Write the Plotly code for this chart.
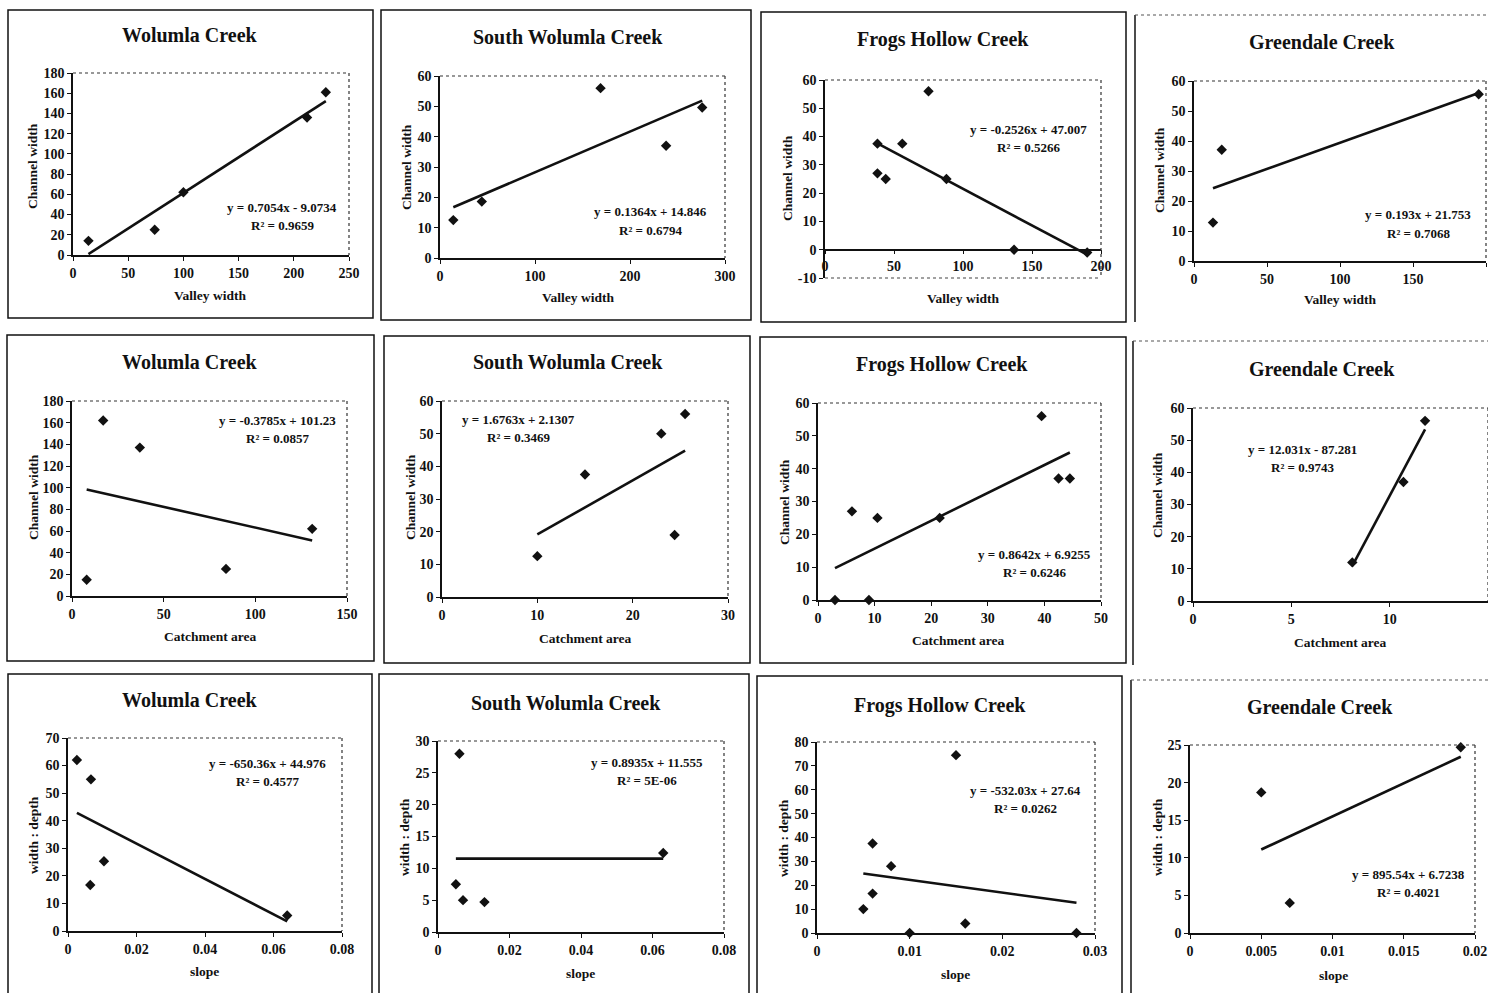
import numpy as np
import plotly.graph_objects as go

W, H = 1488, 993

# ---------------- data ----------------
creeks = ["Wolumla Creek", "South Wolumla Creek", "Frogs Hollow Creek", "Greendale Creek"]
row_x_titles = ["Valley width", "Catchment area", "slope"]
row_y_titles = ["Channel width", "Channel width", "width : depth"]

# Row 1: valley width vs channel width
wol_valley_x = [14, 74, 100, 212, 229]
wol_valley_y = [14, 25, 62, 136, 161]
swol_valley_x = [14, 44, 169, 238, 276]
swol_valley_y = [12.5, 18.6, 56, 37, 49.6]
frog_valley_x = [38, 38, 44, 56, 75, 88, 137, 190]
frog_valley_y = [37.5, 27, 25, 37.5, 56, 25, 0, -1]
green_valley_x = [13, 19, 195]
green_valley_y = [12.8, 37.1, 55.6]

# Row 2: catchment area vs channel width
wol_catch_x = [8, 17, 37, 84, 131]
wol_catch_y = [15, 162, 137, 25, 62]
swol_catch_x = [10, 15, 23, 24.4, 25.5]
swol_catch_y = [12.5, 37.5, 50, 19, 56]
frog_catch_x = [3, 6, 9, 10.5, 21.5, 39.5, 42.5, 44.5]
frog_catch_y = [0, 27, 0, 25, 25, 56, 37, 37]
green_catch_x = [8.1, 10.7, 11.8]
green_catch_y = [12, 37, 56]

# Row 3: slope vs width:depth
wol_slope_x = [0.0026, 0.0067, 0.0065, 0.0105, 0.064]
wol_slope_y = [62, 55, 16.7, 25.3, 5.6]
swol_slope_x = [0.005, 0.006, 0.007, 0.013, 0.063]
swol_slope_y = [7.5, 28, 5, 4.7, 12.4]
frog_slope_x = [0.005, 0.006, 0.006, 0.008, 0.010, 0.015, 0.016, 0.028]
frog_slope_y = [10, 37.5, 16.5, 28, 0, 74.5, 4, 0]
green_slope_x = [0.005, 0.007, 0.019]
green_slope_y = [18.7, 4, 24.7]

eq_texts = [
    "y = 0.7054x - 9.0734", "y = 0.1364x + 14.846", "y = -0.2526x + 47.007", "y = 0.193x + 21.753",
    "y = -0.3785x + 101.23", "y = 1.6763x + 2.1307", "y = 0.8642x + 6.9255", "y = 12.031x - 87.281",
    "y = -650.36x + 44.976", "y = 0.8935x + 11.555", "y = -532.03x + 27.64", "y = 895.54x + 6.7238",
]
r2_texts = [
    "R² = 0.9659", "R² = 0.6794", "R² = 0.5266", "R² = 0.7068",
    "R² = 0.0857", "R² = 0.3469", "R² = 0.6246", "R² = 0.9743",
    "R² = 0.4577", "R² = 5E-06", "R² = 0.0262", "R² = 0.4021",
]

series_x = [wol_valley_x, swol_valley_x, frog_valley_x, green_valley_x,
            wol_catch_x, swol_catch_x, frog_catch_x, green_catch_x,
            wol_slope_x, swol_slope_x, frog_slope_x, green_slope_x]
series_y = [wol_valley_y, swol_valley_y, frog_valley_y, green_valley_y,
            wol_catch_y, swol_catch_y, frog_catch_y, green_catch_y,
            wol_slope_y, swol_slope_y, frog_slope_y, green_slope_y]

x_ranges = [(0, 250), (0, 300), (0, 200), (0, 200),
            (0, 150), (0, 30), (0, 50), (0, 15),
            (0, 0.08), (0, 0.08), (0, 0.03), (0, 0.02)]
x_dticks = [50, 100, 50, 50, 50, 10, 10, 5, 0.02, 0.02, 0.01, 0.005]
y_ranges = [(0, 180), (0, 60), (-10, 60), (0, 60),
            (0, 180), (0, 60), (0, 60), (0, 60),
            (0, 70), (0, 30), (0, 80), (0, 25)]
y_dticks = [20, 10, 10, 10, 20, 10, 10, 10, 10, 5, 10, 5]

# ---------------- layout (window pixels) ----------------
layout_px = [
    dict(box=(8, 10, 373, 318), plot=(73, 73, 349, 255), title=(190, 35), xt=(210, 295), yt=(33, 166), eq=(282, 207)),
    dict(box=(381, 10, 751, 320), plot=(440, 76, 725, 258), title=(568, 37), xt=(578, 297), yt=(406, 167), eq=(650, 212)),
    dict(box=(761, 12, 1126, 322), plot=(825, 80, 1101, 278), title=(943, 39), xt=(963, 298), yt=(787, 178), eq=(1028, 129)),
    dict(box=(1135, 15, 1500, 322), plot=(1194, 81, 1486, 261), title=(1322, 42), xt=(1340, 300), yt=(1160, 170), eq=(1418, 215)),
    dict(box=(7, 335, 374, 661), plot=(72, 401, 347, 596), title=(190, 362), xt=(210, 636), yt=(33, 497), eq=(277, 420)),
    dict(box=(384, 336, 750, 663), plot=(442, 401, 728, 597), title=(568, 362), xt=(585, 638), yt=(410, 497), eq=(518, 419)),
    dict(box=(760, 337, 1126, 663), plot=(818, 403, 1101, 600), title=(942, 364), xt=(958, 640), yt=(784, 502), eq=(1034, 554)),
    dict(box=(1133, 341, 1500, 665), plot=(1193, 408, 1488, 601), title=(1322, 369), xt=(1340, 642), yt=(1158, 495), eq=(1302, 449)),
    dict(box=(8, 674, 372, 1000), plot=(68, 738, 342, 931), title=(190, 700), xt=(205, 971), yt=(33, 835), eq=(267, 763)),
    dict(box=(379, 674, 749, 1000), plot=(438, 741, 724, 932), title=(566, 703), xt=(580, 973), yt=(404, 837), eq=(647, 762)),
    dict(box=(757, 676, 1122, 1000), plot=(817, 742, 1095, 933), title=(940, 705), xt=(955, 974), yt=(783, 838), eq=(1025, 790)),
    dict(box=(1131, 680, 1500, 1000), plot=(1190, 745, 1475, 933), title=(1320, 707), xt=(1333, 975), yt=(1157, 837), eq=(1408, 874)),
]

FONT = "Liberation Serif"
INK = "#111111"
TICK_SIZE = 14
LABEL_SIZE = 13.5
EQ_SIZE = 13
TITLE_SIZE = 20


def px(xp):
    return xp / W


def py(yp):
    return 1 - yp / H


def tick_list(lo, hi, step):
    vals = [round(v, 10) for v in np.arange(lo, hi + step * 0.5, step)]
    return vals, [f"<b>{v:g}</b>" for v in vals]


fig = go.Figure()
layout = dict(
    width=W, height=H, autosize=False,
    margin=dict(l=0, r=0, t=0, b=0, pad=0, autoexpand=False),
    paper_bgcolor="white", plot_bgcolor="white", showlegend=False,
    font=dict(family=FONT, color=INK),
)
shapes = []
annotations = []

for i in range(12):
    n = i + 1
    xa = "x" if n == 1 else f"x{n}"
    ya = "y" if n == 1 else f"y{n}"
    cfg = layout_px[i]
    l, t, r, b = cfg["plot"]
    col = i % 4
    row = i // 4

    xs = np.array(series_x[i], dtype=float)
    ys = np.array(series_y[i], dtype=float)
    slope, icpt = np.polyfit(xs, ys, 1)
    lx = np.array([xs.min(), xs.max()])

    fig.add_trace(go.Scatter(x=lx, y=slope * lx + icpt, mode="lines", xaxis=xa, yaxis=ya,
                             line=dict(color=INK, width=2.6), hoverinfo="skip"))
    fig.add_trace(go.Scatter(x=xs, y=ys, mode="markers", xaxis=xa, yaxis=ya,
                             marker=dict(symbol="diamond", size=8, color=INK), cliponaxis=False))

    x0, x1 = x_ranges[i]
    y0, y1 = y_ranges[i]
    xtv, xtt = tick_list(x0, x1, x_dticks[i])
    ytv, ytt = tick_list(y0, y1, y_dticks[i])
    common = dict(showgrid=False, zeroline=False, showline=True, linecolor=INK, linewidth=1.5,
                  ticks="outside", ticklen=4, tickwidth=1.2, tickcolor=INK, automargin=False,
                  tickfont=dict(family=FONT, size=TICK_SIZE, color=INK), fixedrange=True)
    xaxis = dict(domain=[max(0, px(l)), min(1, px(r))], range=[x0, x1], tickmode="array",
                 tickvals=xtv, ticktext=xtt, anchor=ya, **common)
    if y0 < 0:
        # x axis crosses at y = 0; plot-area bottom (y = -10) drawn dotted
        zero_pix = t + (y1 - 0) / (y1 - y0) * (b - t)
        xaxis.update(anchor="free", position=py(zero_pix))
        shapes.append(dict(type="line", xref="paper", yref="paper", x0=px(l), x1=px(r), y0=py(b), y1=py(b),
                           line=dict(color="#444", width=1.2, dash="dot")))
    yaxis = dict(domain=[max(0, py(b)), min(1, py(t))], range=[y0, y1], tickmode="array",
                 tickvals=ytv, ticktext=ytt, anchor=xa, **common)
    layout["xaxis" if n == 1 else f"xaxis{n}"] = xaxis
    layout["yaxis" if n == 1 else f"yaxis{n}"] = yaxis

    # plot area top and right borders (dotted, as in the scan)
    shapes.append(dict(type="line", xref="paper", yref="paper", x0=px(l), x1=px(r), y0=py(t), y1=py(t),
                       line=dict(color="#333", width=1.2, dash="dot")))
    shapes.append(dict(type="line", xref="paper", yref="paper", x0=px(r), x1=px(r), y0=py(t), y1=py(b),
                       line=dict(color="#333", width=1.2, dash="dot")))

    # panel box
    bx0, by0, bx1, by1 = cfg["box"]
    if col < 3:
        shapes.append(dict(type="rect", xref="paper", yref="paper", x0=px(bx0), x1=px(bx1), y0=py(by1), y1=py(by0),
                           line=dict(color=INK, width=1.5)))
    else:
        shapes.append(dict(type="line", xref="paper", yref="paper", x0=px(bx0), x1=px(bx0), y0=py(by1), y1=py(by0),
                           line=dict(color=INK, width=1.5)))
        shapes.append(dict(type="line", xref="paper", yref="paper", x0=px(bx0), x1=px(bx1), y0=py(by0), y1=py(by0),
                           line=dict(color="#555", width=1.2, dash="dot")))

    def ann(text, pos, size, angle=0):
        annotations.append(dict(text=f"<b>{text}</b>", x=px(pos[0]), y=py(pos[1]), xref="paper", yref="paper",
                                xanchor="center", yanchor="middle", showarrow=False, textangle=angle,
                                font=dict(family=FONT, size=size, color=INK)))

    ann(creeks[col], cfg["title"], TITLE_SIZE)
    ann(row_x_titles[row], cfg["xt"], LABEL_SIZE)
    ann(row_y_titles[row], cfg["yt"], LABEL_SIZE, -90)
    ex, ey = cfg["eq"]
    ann(eq_texts[i], (ex, ey), EQ_SIZE)
    ann(r2_texts[i], (ex, ey + 18), EQ_SIZE)

layout["shapes"] = shapes
layout["annotations"] = annotations
fig.update_layout(**layout)

fig.write_html("out.html", config={"displayModeBar": False, "responsive": False},
               post_script="document.body.style.margin='0';document.body.style.overflow='hidden';")
